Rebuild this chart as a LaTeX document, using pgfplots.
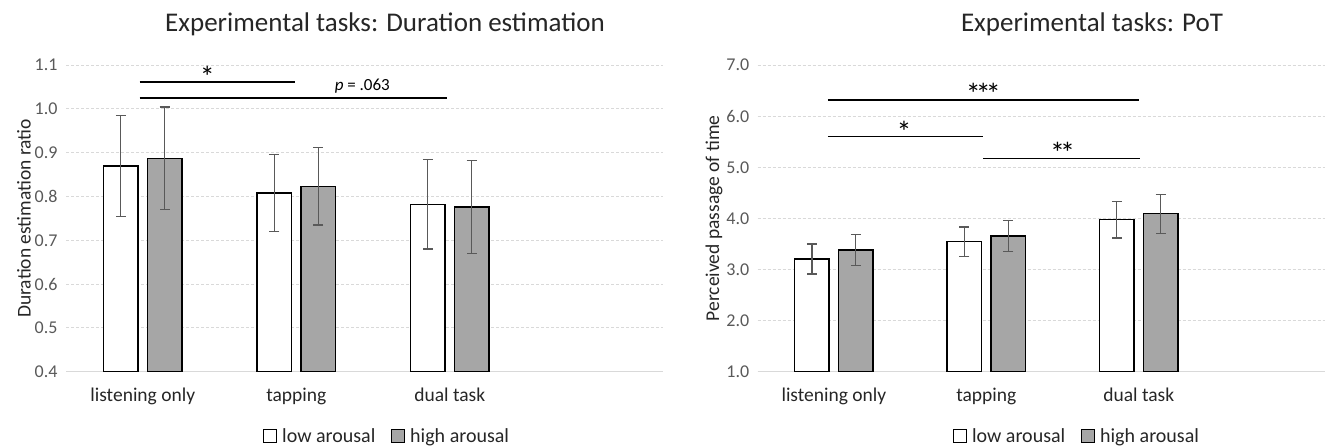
\documentclass[border=0pt]{standalone}
\usepackage{pgfplots}
\pgfplotsset{compat=1.18}
\usepackage{fontspec}
\setmainfont{Carlito}
\definecolor{tickgray}{HTML}{595959}
\definecolor{labgray}{HTML}{262626}
\definecolor{gridgray}{HTML}{D9D9D9}
\definecolor{bargray}{HTML}{A6A6A6}
\definecolor{errgray}{HTML}{595959}
\tikzset{stars/.style={font=\fontsize{30bp}{32bp}\selectfont, inner sep=0pt, text=black}}
\newcommand{\st}{*\kern-5bp}
\pgfplotsset{
  mybase/.style={
    scale only axis,
    anchor=south west,
    ybar=9.4bp, bar width=34.5bp,
    xmin=-0.5,
    xtick={0,1,2},
    xticklabels={listening only, tapping, dual task},
    major tick length=0pt,
    ymajorgrids,
    grid style={gridgray, dash pattern=on 3bp off 2bp, line width=0.8bp},
    axis x line*=bottom,
    axis y line*=left,
    x axis line style={-, draw=gridgray, line width=1bp},
    y axis line style={draw=none},
    xticklabel style={font=\fontsize{19.5bp}{22bp}\selectfont, text=labgray, yshift=-13bp},
    yticklabel style={font=\fontsize{18bp}{21bp}\selectfont, text=tickgray, xshift=-5bp},
    ylabel style={font=\fontsize{19.5bp}{22bp}\selectfont, text=labgray},
    ylabel shift=-3bp,
    /pgf/number format/.cd, fixed, fixed zerofill, precision=1, assume math mode=true,
    /pgfplots/.cd,
    legend style={draw=none, fill=none, font=\fontsize{20bp}{23bp}\selectfont, text=labgray,
      legend columns=2,
      /tikz/every odd column/.append style={column sep=3bp},
      /tikz/every even column/.append style={column sep=14bp},
      inner sep=0pt},
  },
  legbox/.style={legend image code/.code={\draw[##1, line width=0.9bp] (0bp,-6.5bp) rectangle (13bp,6.5bp);}},
  errs/.style={error bars/.cd, y dir=both, y explicit,
    error bar style={color=errgray, line width=1.2bp},
    error mark options={rotate=90, mark size=5bp, color=errgray, line width=1.2bp}},
  lowbar/.style={legbox, fill=white, draw=black, line width=1.5bp, errs},
  highbar/.style={legbox, fill=bargray, draw=black, line width=1.5bp, errs},
  sigline/.style={sharp plot, black, line width=1.5bp, no marks, forget plot},
}
\begin{document}
\begin{tikzpicture}
\useasboundingbox (0,0) rectangle (1325bp,-447bp);
% ---------------- Left chart ----------------
\begin{axis}[mybase,
  at={(66bp,-371.7bp)},
  width=597bp, height=306.7bp,
  xmax=3.389,
  ymin=0.4, ymax=1.1, ytick={0.4,0.5,...,1.1},
  ylabel={Duration estimation ratio},
  legend style={at={(rel axis cs:0.538,-0.21)}, anchor=center},
]
\addplot[lowbar] coordinates {
  (0,0.869) +- (0,0.115)
  (1,0.808) +- (0,0.088)
  (2,0.782) +- (0,0.102)
};
\addlegendentry{low arousal}
\addplot[highbar] coordinates {
  (0,0.887) +- (0,0.117)
  (1,0.823) +- (0,0.088)
  (2,0.776) +- (0,0.106)
};
\addlegendentry{high arousal}
\addplot[sigline] coordinates {(-0.02,1.061) (0.99,1.061)};
\addplot[sigline] coordinates {(-0.02,1.025) (1.98,1.025)};
\node[stars] at (axis cs:0.42,1.074) {*};
\node[font=\fontsize{17bp}{20bp}\selectfont, inner sep=0pt] at (axis cs:1.43,1.051) {\textit{p} = .063};
\end{axis}
% ---------------- Right chart ----------------
\begin{axis}[mybase,
  at={(757.7bp,-371.7bp)},
  width=567.3bp, height=306.7bp,
  xmax=3.222,
  ymin=1, ymax=7, ytick={1,2,...,7},
  ylabel={Perceived passage of time},
  legend style={at={(rel axis cs:0.563,-0.21)}, anchor=center},
]
\addplot[lowbar] coordinates {
  (0,3.204) +- (0,0.293)
  (1,3.543) +- (0,0.287)
  (2,3.974) +- (0,0.359)
};
\addlegendentry{low arousal}
\addplot[highbar] coordinates {
  (0,3.381) +- (0,0.303)
  (1,3.655) +- (0,0.300)
  (2,4.091) +- (0,0.381)
};
\addlegendentry{high arousal}
\addplot[sigline] coordinates {(-0.04,6.32) (2.0,6.32)};
\addplot[sigline] coordinates {(-0.04,5.597) (0.98,5.597)};
\addplot[sigline] coordinates {(0.98,5.167) (2.01,5.167)};
\node[stars] at (axis cs:0.98,6.44) {\st\st*};
\node[stars] at (axis cs:0.46,5.70) {*};
\node[stars] at (axis cs:1.50,5.28) {\st*};
\end{axis}
% ---------------- Titles ----------------
\node[font=\fontsize{27bp}{30bp}\selectfont, text=labgray] at (385bp,-24bp) {Experimental tasks: Duration estimation};
\node[font=\fontsize{27bp}{30bp}\selectfont, text=labgray] at (1092bp,-24bp) {Experimental tasks: PoT};
\end{tikzpicture}
\end{document}
